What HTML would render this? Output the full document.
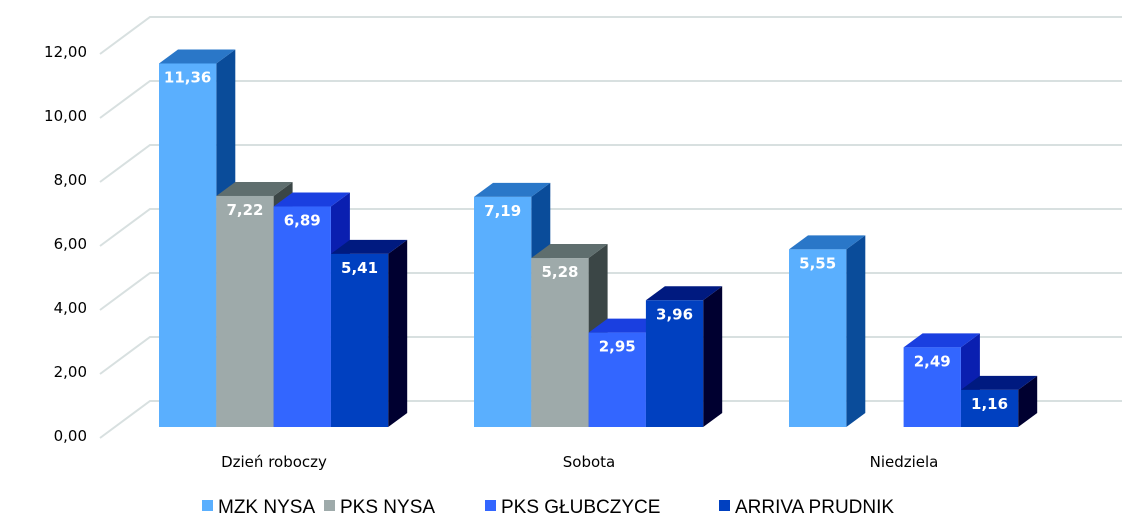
<!DOCTYPE html>
<html><head><meta charset="utf-8"><style>
body{margin:0;background:#fff;width:1132px;height:532px;overflow:hidden}
svg{display:block;font-family:"DejaVu Sans","Liberation Sans",sans-serif}
</style></head><body>
<svg id="c" width="1132" height="532"></svg>
<script>
const categories=["Dzień roboczy","Sobota","Niedziela"];
const seriesNames=["MZK NYSA","PKS NYSA","PKS GŁUBCZYCE","ARRIVA PRUDNIK"];
const mzk=[11.36,7.19,5.55];
const pksNysa=[7.22,5.28,null];
const pksGlub=[6.89,2.95,2.49];
const arriva=[5.41,3.96,1.16];
const yTicks=[0,2,4,6,8,10,12];
const series=[mzk,pksNysa,pksGlub,arriva];
const colors=[["#5aaffe","#2a77c8","#0a4c9a"],["#9eaaaa","#5f6e6e","#3b4646"],["#3366ff","#1a3fe0","#0a1fb0"],["#0040c0","#001a80","#000030"]];
const NS="http://www.w3.org/2000/svg",svg=document.getElementById("c");
function el(t,a,p){const e=document.createElementNS(NS,t);for(const k in a)e.setAttribute(k,a[k]);(p||svg).appendChild(e);return e;}
const y0=427,ppu=32;
function yFront(v){return 438-v*ppu;}
function yBar(v){return y0-v*ppu;}
function xGroup(i){return 159+i*315;}
const bw=57.3,ddx=19,ddy=14;
// gridlines
yTicks.forEach(t=>{
  const yf=yFront(t),yb=yf-37;
  const g=el("polyline",{points:`100,${yf} 150,${yb} 1122,${yb}`,fill:"none",stroke:"#d8e0e0","stroke-width":2});
  
  
  const tx=el("text",{x:87,y:yf+3,"text-anchor":"end","font-size":15,fill:"#000"});
  tx.textContent=t.toFixed(2).replace(".",",");
  
  
});
categories.forEach((c,i)=>{
  series.forEach((s,j)=>{
    const v=s[i];if(v===null||v===undefined)return;
    const x=xGroup(i)+j*bw,top=yBar(v),col=colors[j];
    const g=el("g",{});
    
    
    el("polygon",{points:`${x+bw},${top} ${x+bw+ddx},${top-ddy} ${x+bw+ddx},${y0-ddy} ${x+bw},${y0}`,fill:col[2]},g);
    el("polygon",{points:`${x},${top} ${x+ddx},${top-ddy} ${x+bw+ddx},${top-ddy} ${x+bw},${top}`,fill:col[1]},g);
    el("rect",{x:x,y:top,width:bw,height:y0-top,fill:col[0]},g);
    const t=el("text",{x:x+bw/2,y:top+19,"text-anchor":"middle","font-size":15,"font-weight":"bold",fill:"#fff"},g);
    t.textContent=v.toFixed(2).replace(".",",");
  });
  const ct=el("text",{x:xGroup(i)+115,y:467,"text-anchor":"middle","font-size":15,fill:"#000"});
  ct.textContent=c;
  
  
});
const lx=[202,324,485,719];
seriesNames.forEach((n,j)=>{
  const g=el("g",{});
  
  
  el("rect",{x:lx[j],y:500,width:11,height:11,fill:colors[j][0]},g);
  const t=el("text",{x:lx[j]+16,y:513,"font-size":19,fill:"#000","font-family":"Liberation Sans, sans-serif"},g);
  t.textContent=n;
});
</script>
</body></html>
